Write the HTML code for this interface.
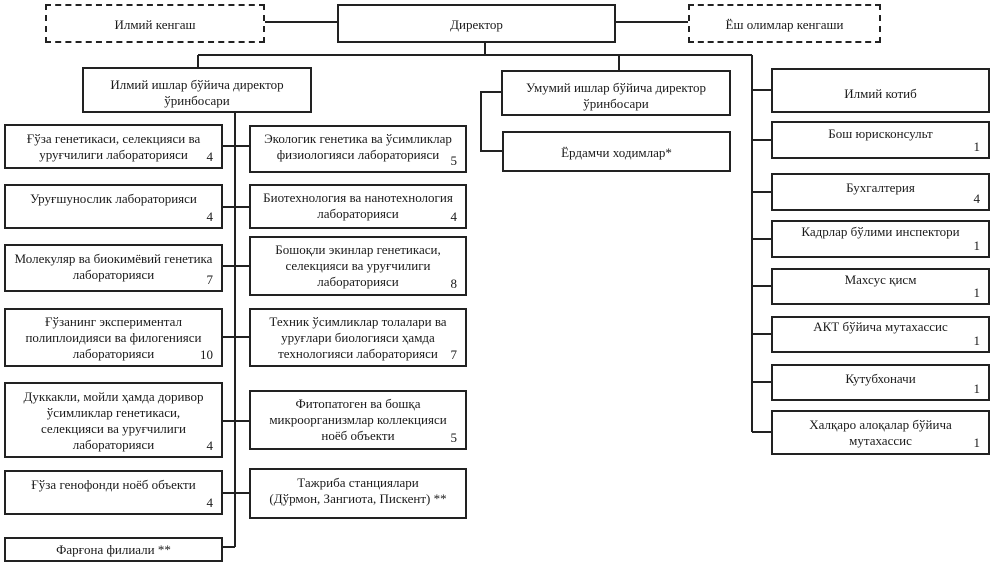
<!DOCTYPE html>
<html><head><meta charset="utf-8"><style>
body{margin:0;background:#fff;width:996px;height:566px;position:relative;overflow:hidden;font-family:"Liberation Serif",serif;color:#1a1a1a}
.b{position:absolute;box-sizing:border-box;border:2px solid #222;background:#fff;text-align:center;font-size:13px;line-height:16px;padding-top:3px}
.d{border:2px dashed #222}
.n{position:absolute;right:8px;bottom:2px;font-size:13px}
svg{position:absolute;left:0;top:0}
</style></head><body>
<svg width="996" height="566"><g stroke="#222" stroke-width="2" fill="none">
<line x1="265" y1="22" x2="337" y2="22"/><line x1="616" y1="22" x2="688" y2="22"/>
<line x1="485" y1="43" x2="485" y2="55"/><line x1="198" y1="55" x2="752" y2="55"/>
<line x1="198" y1="55" x2="198" y2="67"/><line x1="619" y1="55" x2="619" y2="70"/>
<line x1="752" y1="55" x2="752" y2="432"/>
<line x1="752" y1="90" x2="771" y2="90"/><line x1="752" y1="140" x2="771" y2="140"/><line x1="752" y1="192" x2="771" y2="192"/><line x1="752" y1="239" x2="771" y2="239"/><line x1="752" y1="286" x2="771" y2="286"/><line x1="752" y1="334" x2="771" y2="334"/><line x1="752" y1="382" x2="771" y2="382"/><line x1="752" y1="432" x2="771" y2="432"/>
<polyline points="501,92 481,92 481,151 502,151"/>
<line x1="235" y1="113" x2="235" y2="547"/>
<line x1="223" y1="146" x2="249" y2="146"/><line x1="223" y1="207" x2="249" y2="207"/><line x1="223" y1="266" x2="249" y2="266"/><line x1="223" y1="337" x2="249" y2="337"/><line x1="223" y1="421" x2="249" y2="421"/><line x1="223" y1="493" x2="249" y2="493"/><line x1="223" y1="547" x2="235" y2="547"/>
</g></svg>
<div class="b d" style="left:45px;top:4px;width:220px;height:39px;padding-top:11px">Илмий кенгаш</div>
<div class="b" style="left:337px;top:4px;width:279px;height:39px;padding-top:11px">Директор</div>
<div class="b d" style="left:688px;top:4px;width:193px;height:39px;padding-top:11px">Ёш олимлар кенгаши</div>
<div class="b" style="left:82px;top:67px;width:230px;height:46px;padding-top:8px">Илмий ишлар бўйича директор<br>ўринбосари</div>
<div class="b" style="left:501px;top:70px;width:230px;height:46px;padding-top:8px">Умумий ишлар бўйича директор<br>ўринбосари</div>
<div class="b" style="left:502px;top:131px;width:229px;height:41px;padding-top:12px">Ёрдамчи ходимлар*</div>
<div class="b" style="left:771px;top:68px;width:219px;height:45px;padding-top:16px">Илмий котиб</div>
<div class="b" style="left:771px;top:121px;width:219px;height:38px;padding-top:3px">Бош юрисконсульт<span class="n">1</span></div>
<div class="b" style="left:771px;top:173px;width:219px;height:38px;padding-top:5px">Бухгалтерия<span class="n">4</span></div>
<div class="b" style="left:771px;top:220px;width:219px;height:38px;padding-top:2px">Кадрлар бўлими инспектори<span class="n">1</span></div>
<div class="b" style="left:771px;top:268px;width:219px;height:37px;padding-top:2px">Махсус қисм<span class="n">1</span></div>
<div class="b" style="left:771px;top:316px;width:219px;height:37px;padding-top:1px">АКТ бўйича мутахассис<span class="n">1</span></div>
<div class="b" style="left:771px;top:364px;width:219px;height:37px;padding-top:5px">Кутубхоначи<span class="n">1</span></div>
<div class="b" style="left:771px;top:410px;width:219px;height:45px;padding-top:5px">Халқаро алоқалар бўйича<br>мутахассис<span class="n">1</span></div>
<div class="b" style="left:4px;top:124px;width:219px;height:45px;padding-top:5px">Ғўза генетикаси, селекцияси ва<br>уруғчилиги лабораторияси<span class="n">4</span></div>
<div class="b" style="left:4px;top:184px;width:219px;height:45px;padding-top:5px">Уруғшунослик лабораторияси<span class="n">4</span></div>
<div class="b" style="left:4px;top:244px;width:219px;height:48px;padding-top:5px">Молекуляр ва биокимёвий генетика<br>лабораторияси<span class="n">7</span></div>
<div class="b" style="left:4px;top:308px;width:219px;height:59px;padding-top:4px">Ғўзанинг экспериментал<br>полиплоидияси ва филогенияси<br>лабораторияси<span class="n">10</span></div>
<div class="b" style="left:4px;top:382px;width:219px;height:76px;padding-top:5px">Дуккакли, мойли ҳамда доривор<br>ўсимликлар генетикаси,<br>селекцияси ва уруғчилиги<br>лабораторияси<span class="n">4</span></div>
<div class="b" style="left:4px;top:470px;width:219px;height:45px;padding-top:5px">Ғўза генофонди ноёб объекти<span class="n">4</span></div>
<div class="b" style="left:4px;top:537px;width:219px;height:25px;padding-top:3px">Фарғона филиали **</div>
<div class="b" style="left:249px;top:125px;width:218px;height:48px;padding-top:4px">Экологик генетика ва ўсимликлар<br>физиологияси лабораторияси<span class="n">5</span></div>
<div class="b" style="left:249px;top:184px;width:218px;height:45px;padding-top:4px">Биотехнология ва нанотехнология<br>лабораторияси<span class="n">4</span></div>
<div class="b" style="left:249px;top:236px;width:218px;height:60px;padding-top:4px">Бошоқли экинлар генетикаси,<br>селекцияси ва уруғчилиги<br>лабораторияси<span class="n">8</span></div>
<div class="b" style="left:249px;top:308px;width:218px;height:59px;padding-top:4px">Техник ўсимликлар толалари ва<br>уруғлари биологияси ҳамда<br>технологияси лабораторияси<span class="n">7</span></div>
<div class="b" style="left:249px;top:390px;width:218px;height:60px;padding-top:4px">Фитопатоген ва бошқа<br>микроорганизмлар коллекцияси<br>ноёб объекти<span class="n">5</span></div>
<div class="b" style="left:249px;top:468px;width:218px;height:51px;padding-top:5px">Тажриба станциялари<br>(Дўрмон, Зангиота, Пискент) **</div>
</body></html>
